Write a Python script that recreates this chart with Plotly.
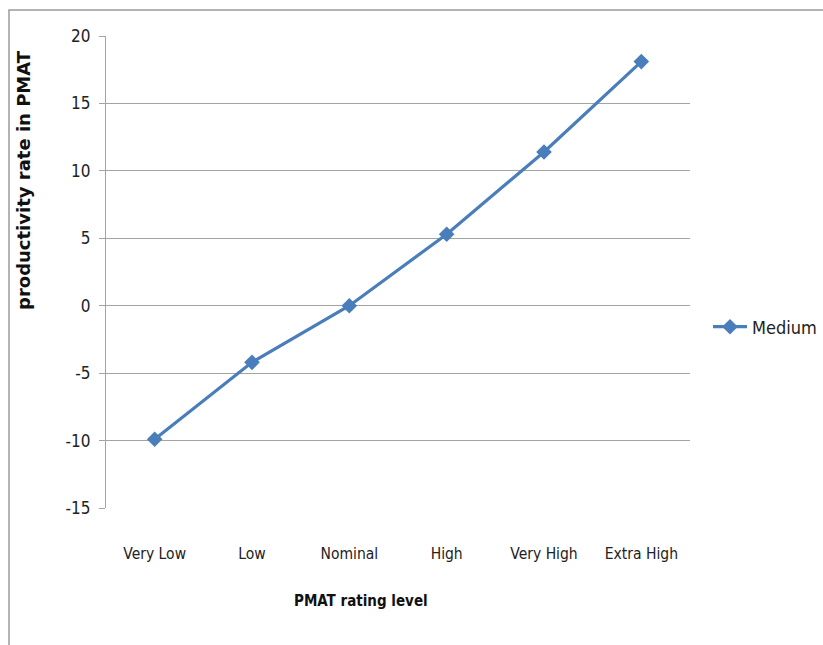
import plotly.graph_objects as go

# PMAT rating levels and the productivity rate for the Medium series
rating_levels = ["Very Low", "Low", "Nominal", "High", "Very High", "Extra High"]
medium_rate = [-9.9, -4.2, 0.0, 5.3, 11.4, 18.1]
y_ticks = [-15, -10, -5, 0, 5, 10, 15, 20]
y_tick_text = ["-15", "-10", "-5", "0", "5", "10", "15", "20"]

FONT = "Liberation Sans Narrow, DejaVu Sans Condensed, Arial Narrow, sans-serif"
BLUE = "#4a7ebb"

fig = go.Figure()
fig.add_trace(go.Scatter(
    x=rating_levels,
    y=medium_rate,
    mode="lines+markers",
    name="Medium",
    line=dict(color=BLUE, width=3.2),
    marker=dict(symbol="diamond", size=12, color=BLUE),
))

W, H = 823, 645
ML, MR, MT, MB = 106, 133, 36, 137
PW, PH = W - ML - MR, H - MT - MB

def px_x(p):
    return (p - ML) / PW

def px_y(p):
    return (H - MB - p) / PH

fig.update_layout(
    width=W, height=H,
    margin=dict(l=ML, r=MR, t=MT, b=MB, autoexpand=False),
    paper_bgcolor="white",
    plot_bgcolor="white",
    font=dict(family=FONT, size=16, color="#222222"),
    showlegend=True,
    legend=dict(
        x=px_x(708), y=px_y(327), xanchor="left", yanchor="middle",
        font=dict(family=FONT, size=18, color="#222222"),
        bgcolor="rgba(0,0,0,0)",
        itemwidth=34,
    ),
    xaxis=dict(
        type="category",
        range=[-0.5, 5.5],
        showgrid=False,
        showline=False,
        zeroline=False,
        ticks="",
        tickfont=dict(family=FONT, size=15.5, color="#222222"),
        ticklabelstandoff=34,
    ),
    yaxis=dict(
        range=[-15, 20],
        tickvals=y_ticks,
        ticktext=y_tick_text,
        showgrid=True,
        gridcolor="#a3a3a3",
        gridwidth=1.4,
        zeroline=False,
        showline=True,
        linecolor="#a3a3a3",
        linewidth=1.2,
        ticks="outside",
        ticklen=6,
        tickcolor="#a3a3a3",
        ticklabelstandoff=5,
        tickfont=dict(family=FONT, size=17, color="#222222"),
    ),
    annotations=[
        dict(
            text="<b>productivity rate in PMAT</b>",
            xref="paper", yref="paper",
            x=px_x(24), y=px_y(180),
            xanchor="center", yanchor="middle",
            textangle=-90, showarrow=False,
            font=dict(family="DejaVu Sans, sans-serif", size=18, color="#111111"),
        ),
        dict(
            text="<b>PMAT rating level</b>",
            xref="paper", yref="paper",
            x=px_x(361), y=px_y(601),
            xanchor="center", yanchor="middle",
            showarrow=False,
            font=dict(family=FONT, size=15, color="#111111"),
        ),
    ],
    shapes=[
        dict(
            type="rect", xref="paper", yref="paper",
            x0=px_x(9), x1=px_x(900), y0=px_y(700), y1=px_y(10),
            line=dict(color="#9a9a9a", width=1.5),
            fillcolor="rgba(0,0,0,0)",
            layer="below",
        )
    ],
)

fig.write_html("out.html")
